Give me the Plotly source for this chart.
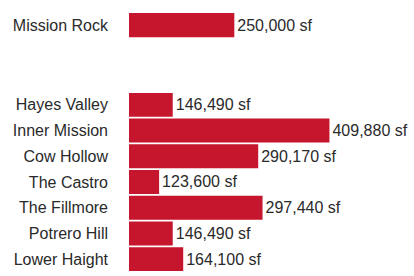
import plotly.graph_objects as go
from plotly.subplots import make_subplots

featured_name = ["Mission Rock"]
featured_sf = [250000]

neighborhoods = ["Hayes Valley", "Inner Mission", "Cow Hollow", "The Castro",
                 "The Fillmore", "Potrero Hill", "Lower Haight"]
square_feet = [146490, 409880, 290170, 123600, 297440, 146490, 164100]

BAR = "#c5162d"
TXT = "#2a2a2a"
FONT = "Liberation Sans"
FS = 16

def label(v):
    return f"{v:,} sf"

fig = make_subplots(rows=2, cols=1, shared_xaxes=False)

fig.add_trace(go.Bar(
    y=featured_name, x=featured_sf, orientation="h",
    marker=dict(color=BAR, line=dict(width=0)),
    text=[label(v) for v in featured_sf], textposition="outside",
    textfont=dict(family=FONT, size=FS, color=TXT),
    cliponaxis=False, constraintext="none", hoverinfo="skip",
), row=1, col=1)

fig.add_trace(go.Bar(
    y=neighborhoods, x=square_feet, orientation="h",
    marker=dict(color=BAR, line=dict(width=0)),
    text=[label(v) for v in square_feet], textposition="outside",
    textfont=dict(family=FONT, size=FS, color=TXT),
    cliponaxis=False, constraintext="none", hoverinfo="skip",
), row=2, col=1)

xr = [73000, 552000]
for ax in ("xaxis", "xaxis2"):
    fig.layout[ax].update(range=xr, visible=False, domain=[0, 1], automargin=False)

ycommon = dict(showgrid=False, zeroline=False, showline=False, ticks="",
               ticklabelstandoff=20, automargin=False,
               tickfont=dict(family=FONT, size=FS, color=TXT))
fig.update_layout(
    yaxis=dict(domain=[0.862, 0.9565], **ycommon),
    yaxis2=dict(domain=[0.0145, 0.6667], autorange="reversed", **ycommon),
)

fig.update_layout(
    width=414, height=276,
    margin=dict(l=129, r=0, t=0, b=0),
    paper_bgcolor="white", plot_bgcolor="white",
    showlegend=False, bargap=0.07,
    font=dict(family=FONT, size=FS, color=TXT),
)

fig.write_html(
    "out.html",
    config={"displayModeBar": False},
    post_script="document.body.style.margin='0';document.body.style.overflow='hidden';",
)
